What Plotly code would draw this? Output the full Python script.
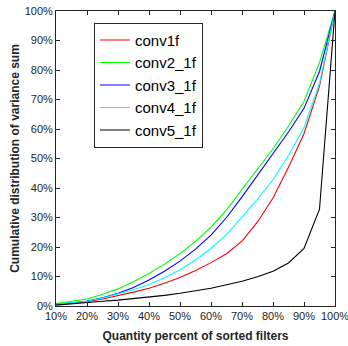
import plotly.graph_objects as go

x_pct = [10, 15, 20, 25, 30, 35, 40, 45, 50, 55, 60, 65, 70, 75, 80, 85, 90, 95, 100]

conv1f = [0.5, 0.9, 1.5, 2.4, 3.5, 4.7, 6.0, 7.7, 9.7, 12.0, 14.7, 17.7, 22.0, 28.5, 36.6, 47.0, 58.4, 74.5, 100]
conv2_1f = [0.8, 1.5, 2.4, 4.0, 5.8, 8.2, 11.0, 14.2, 17.7, 21.9, 26.7, 32.6, 39.5, 46.3, 53.3, 61.0, 69.3, 82.5, 100]
conv3_1f = [0.6, 1.0, 1.7, 2.8, 4.3, 6.3, 8.8, 11.8, 15.2, 19.3, 24.0, 30.0, 37.0, 44.2, 51.5, 59.0, 67.0, 79.5, 100]
conv4_1f = [0.6, 1.0, 1.6, 2.7, 4.0, 5.5, 7.3, 9.6, 12.3, 15.6, 19.5, 24.3, 30.1, 36.2, 42.8, 51.0, 60.5, 75.5, 100]
conv5_1f = [0.3, 0.8, 1.2, 1.6, 2.0, 2.5, 3.0, 3.6, 4.3, 5.1, 6.0, 7.2, 8.4, 9.9, 11.8, 14.6, 19.5, 32.8, 100]

x_ticks = [10, 20, 30, 40, 50, 60, 70, 80, 90, 100]
y_ticks = [0, 10, 20, 30, 40, 50, 60, 70, 80, 90, 100]
x_tick_labels = ["10%", "20%", "30%", "40%", "50%", "60%", "70%", "80%", "90%", "100%"]
y_tick_labels = ["0%", "10%", "20%", "30%", "40%", "50%", "60%", "70%", "80%", "90%", "100%"]

series = [
    ("conv1f", conv1f, "#ff0000"),
    ("conv2_1f", conv2_1f, "#00ff00"),
    ("conv3_1f", conv3_1f, "#0000ff"),
    ("conv4_1f", conv4_1f, "#00ffff"),
    ("conv5_1f", conv5_1f, "#000000"),
]

fig = go.Figure()
for name, ys, col in series:
    fig.add_trace(go.Scatter(x=x_pct, y=ys, mode="lines", name=name,
                             line=dict(color=col, width=1.1)))

axis_common = dict(
    showgrid=False, zeroline=False, showline=True, linecolor="#262626", linewidth=1,
    mirror="ticks", ticks="inside", ticklen=4, tickcolor="#262626", automargin=False,
    ticklabeloverflow="allow",
    tickfont=dict(family="Liberation Sans, Arial", size=11, color="#262626"),
)

fig.update_layout(
    width=348, height=346,
    margin=dict(l=56, r=13, t=11, b=40),
    paper_bgcolor="white", plot_bgcolor="white",
    font=dict(family="Liberation Sans, Arial", color="#262626"),
    xaxis=dict(range=[10, 100], tickmode="array", tickvals=x_ticks, ticktext=x_tick_labels,
               title=dict(text="<b>Quantity percent of sorted filters</b>", font=dict(size=12), standoff=10),
               **axis_common),
    yaxis=dict(range=[0, 100], tickmode="array", tickvals=y_ticks, ticktext=y_tick_labels,
               title=dict(text="<b>Cumulative distribution of variance sum</b>", font=dict(size=12), standoff=2),
               **axis_common),
    legend=dict(x=0.136, y=0.96, xanchor="left", yanchor="top",
                bgcolor="white", bordercolor="#262626", borderwidth=1,
                itemwidth=30,
                font=dict(family="Liberation Sans, Arial", size=15, color="#000000"),
                tracegroupgap=0),
    showlegend=True,
)

fig.write_html("out.html", config={"displayModeBar": False},
               post_script="document.body.style.margin='0';document.body.style.overflow='hidden';")
